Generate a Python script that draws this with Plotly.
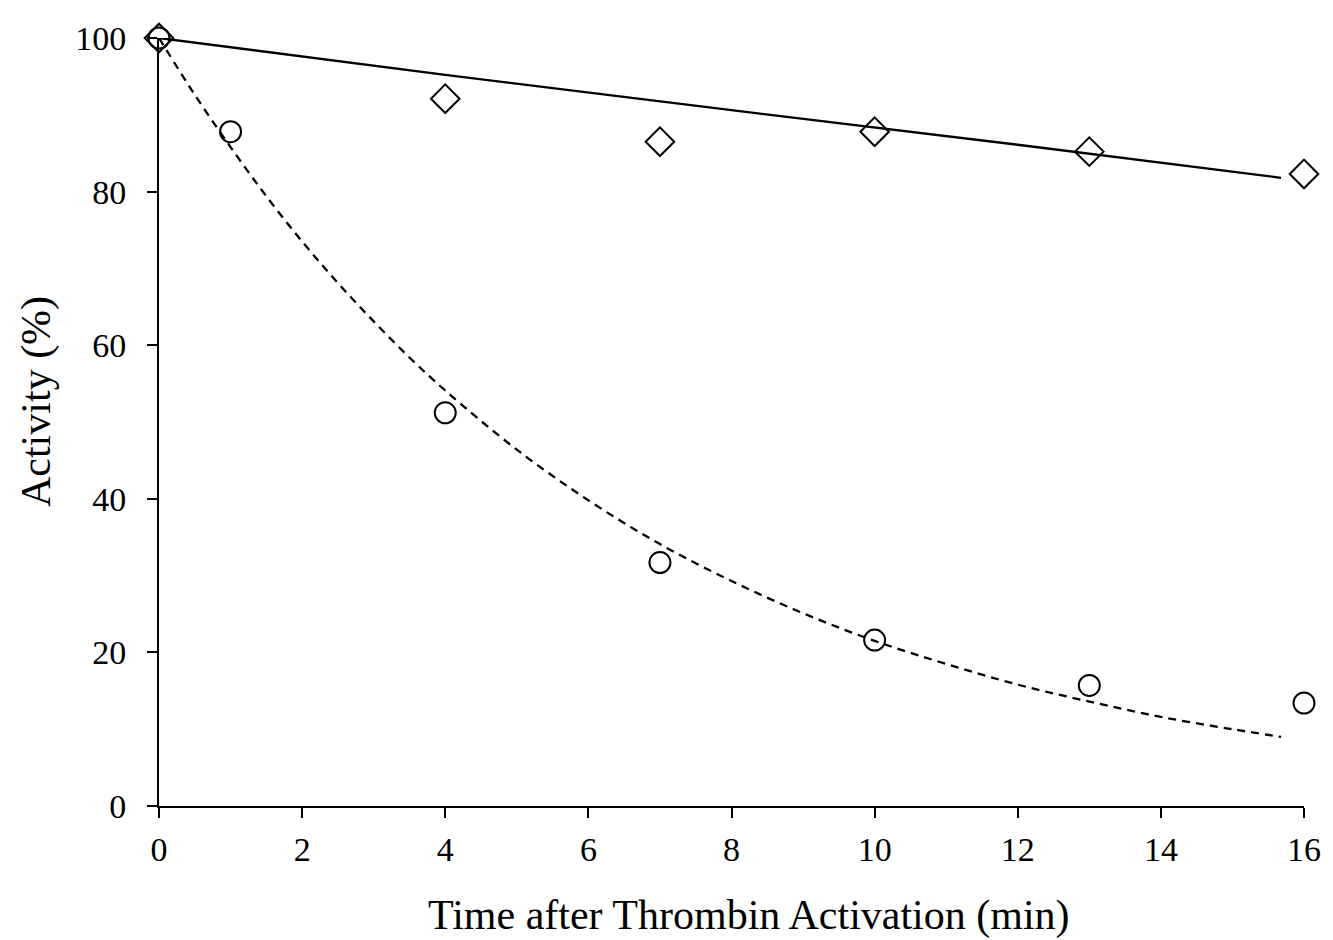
import plotly.graph_objects as go

# Measured data points
time_pts = [0, 1, 4, 7, 10, 13, 16]
circle_vals = [100, 87.8, 51.2, 31.7, 21.6, 15.7, 13.4]
diamond_time = [0, 4, 7, 10, 13, 16]
diamond_vals = [100, 92.1, 86.5, 87.8, 85.2, 82.3]

# Fitted curves
fit_dash_x = [0, 0.5, 1, 1.5, 2, 2.5, 3, 3.5, 4, 5, 6, 7, 8, 9, 10, 11, 12, 13, 14, 15, 15.68]
fit_dash_y = [100, 92.6, 85.8, 79.4, 73.5, 68.1, 63.1, 58.4, 54.1, 46.4, 39.8, 34.1, 29.3,
              25.1, 21.5, 18.5, 15.8, 13.6, 11.6, 10.0, 9.0]
fit_solid_x = [0, 4, 8, 12, 15.68]
fit_solid_y = [100, 95.2, 90.6, 86.1, 81.8]

x_ticks = [0, 2, 4, 6, 8, 10, 12, 14, 16]
y_ticks = [0, 20, 40, 60, 80, 100]

FONT = "Liberation Serif, Times New Roman, serif"

W, H = 1325, 932
ML, MR, MT, MB = 151, 27, 20, 133.5
PW, PH = W - ML - MR, H - MT - MB

fig = go.Figure()
fig.add_trace(go.Scatter(x=fit_solid_x, y=fit_solid_y, mode="lines",
                         line=dict(color="black", width=2.3), cliponaxis=False, showlegend=False))
fig.add_trace(go.Scatter(x=fit_dash_x, y=fit_dash_y, mode="lines", line_shape="spline",
                         line=dict(color="black", width=2.3, dash="8px,6px"), cliponaxis=False,
                         showlegend=False))
fig.add_trace(go.Scatter(x=diamond_time, y=diamond_vals, mode="markers",
                         marker=dict(symbol="diamond-open", size=22, color="black",
                                     line=dict(width=2, color="black")),
                         cliponaxis=False, showlegend=False))
fig.add_trace(go.Scatter(x=time_pts, y=circle_vals, mode="markers",
                         marker=dict(symbol="circle-open", size=21, color="black",
                                     line=dict(width=2, color="black")),
                         cliponaxis=False, showlegend=False))

fig.update_layout(
    width=W, height=H,
    margin=dict(l=ML, r=MR, t=MT, b=MB, pad=0),
    plot_bgcolor="white", paper_bgcolor="white",
    font=dict(family=FONT, size=34, color="black"),
    xaxis=dict(range=[0, 16], tickvals=x_ticks, ticks="outside", ticklen=10, tickwidth=1.7,
               tickcolor="black", showline=True, linecolor="black", linewidth=1.7,
               showgrid=False, zeroline=False, tickfont=dict(size=34, family=FONT),
               ticklabelstandoff=2),
    yaxis=dict(range=[0, 100], tickvals=y_ticks, ticks="outside", ticklen=10, tickwidth=1.7,
               tickcolor="black", showline=True, linecolor="black", linewidth=1.7,
               showgrid=False, zeroline=False, tickfont=dict(size=34, family=FONT),
               ticklabelstandoff=14),
    annotations=[
        dict(text="Time after Thrombin Activation (min)", xref="paper", yref="paper",
             x=(742.5 - ML) / PW, y=0, yshift=-109.5, showarrow=False,
             xanchor="center", yanchor="middle", font=dict(size=42, family=FONT)),
        dict(text="Activity (%)", xref="paper", yref="paper",
             x=0, xshift=28 - ML, y=(H - MB - 389) / PH, showarrow=False, textangle=-90,
             xanchor="center", yanchor="middle", font=dict(size=42, family=FONT)),
    ],
)

fig.write_html("out.html")
